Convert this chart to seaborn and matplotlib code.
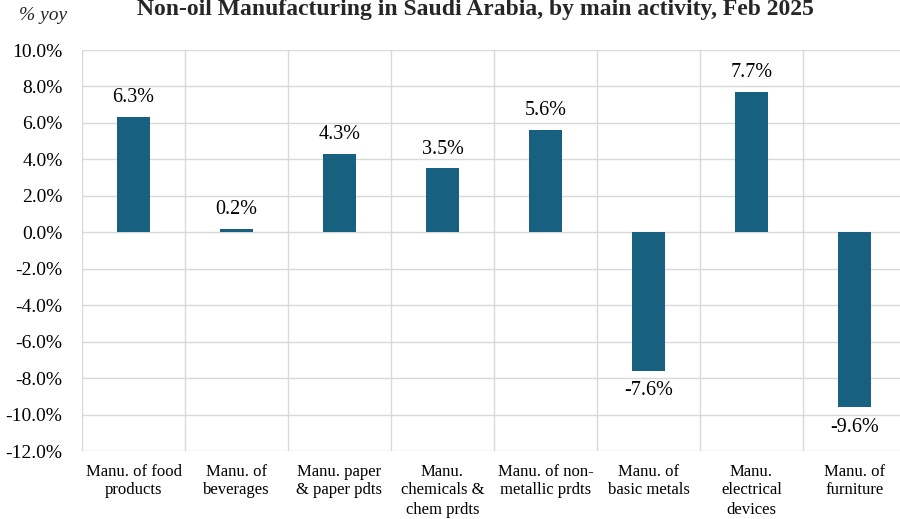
import matplotlib
matplotlib.use("Agg")
import matplotlib.pyplot as plt
import seaborn as sns
import pandas as pd
from matplotlib.ticker import FuncFormatter, MultipleLocator, FixedLocator

categories = ["Manu. of food\nproducts", "Manu. of\nbeverages", "Manu. paper\n& paper pdts",
              "Manu.\nchemicals &\nchem prdts", "Manu. of non-\nmetallic prdts",
              "Manu. of\nbasic metals", "Manu.\nelectrical\ndevices", "Manu. of\nfurniture"]
values = [6.3, 0.2, 4.3, 3.5, 5.6, -7.6, 7.7, -9.6]
title = "Non-oil Manufacturing in Saudi Arabia, by main activity, Feb 2025"
ylabel = "% yoy"

sns.set_theme(style="white")
plt.rcParams['font.family'] = ['Liberation Serif', 'DejaVu Serif']

df = pd.DataFrame({"cat": categories, "val": values})
fig = plt.figure(figsize=(9, 5.19), dpi=100)
ax = fig.add_axes([82/900, 1 - 451/519, (906-82)/900, (451-50)/519])
sns.barplot(data=df, x="cat", y="val", color="#17607f", width=0.32, ax=ax,
            saturation=1, edgecolor="none")

ax.set_ylim(-12, 10)
ax.set_xlim(-0.5, 7.5)
ax.yaxis.set_major_locator(MultipleLocator(2))
ax.yaxis.set_major_formatter(FuncFormatter(lambda v, p: f"{v:.1f}%"))
ax.xaxis.set_minor_locator(FixedLocator([i + 0.5 for i in range(-1, 8)]))
ax.grid(axis="y", which="major", color="#d9d9d9", linewidth=1)
ax.grid(axis="x", which="minor", color="#d9d9d9", linewidth=1)
ax.set_axisbelow(True)
for s in ax.spines.values():
    s.set_visible(False)
ax.tick_params(axis="both", which="both", length=0)
ax.tick_params(axis="y", labelsize=14, pad=14, colors="black")
ax.tick_params(axis="x", labelsize=12, pad=9, colors="black")
for lab in ax.get_xticklabels():
    lab.set_linespacing(1.25)
ax.set_xlabel("")
ax.set_ylabel("")

for i, v in enumerate(values):
    off = 14 if v >= 0 else -14.5
    ax.annotate(f"{v:.1f}%", (i, v), xytext=(0, off), textcoords="offset points",
                ha="center", va="center", fontsize=14.5, color="black")

fig.text(475/900, 1 - 9.5/519, title, ha="center", va="center", fontsize=17, fontweight="bold")
fig.text(43/900, 1 - 16/519, ylabel, ha="center", va="center", fontsize=14, style="italic")

fig.savefig("out.png", dpi=100)
